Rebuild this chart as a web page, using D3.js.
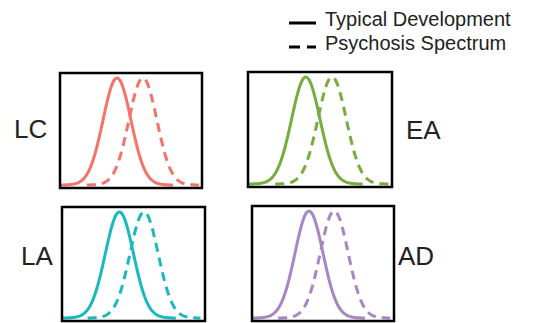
<!DOCTYPE html>
<html>
<head>
<meta charset="utf-8">
<script src="https://cdn.jsdelivr.net/npm/d3@7/dist/d3.min.js"></script>
<style>
  body { margin: 0; background: #fff; }
  svg { display: block; font-family: "Liberation Sans", Arial, sans-serif; }
</style>
</head>
<body>
<div id="chart"></div>
<script>
// groups and the normal curve parameters
var groups = ["LC", "EA", "LA", "AD"];
var groupColors = ["#f4736b", "#77ac3f", "#1ab9bf", "#a886c4"];
var tdMean = [0, 0, 0, 0];
var tdSd = [1, 1, 1, 1];
var psMean = [1.85, 1.85, 1.75, 1.8];
var psSd = [1, 1, 1, 1];
var legendLabels = ["Typical Development", "Psychosis Spectrum"];

// 1: svg
var W = 538, H = 323;
var svg = d3.select("#chart").append("svg")
    .attr("width", W)
    .attr("height", H);

// panel boxes (layout only)
var panels = [
  {x: 60,  y: 73,  w: 142, h: 115, label: "left",  lx: 14,  ly: 138},
  {x: 248, y: 72,  w: 144, h: 115, label: "right", lx: 406, ly: 139},
  {x: 62,  y: 207, w: 143, h: 114, label: "left",  lx: 21,  ly: 265},
  {x: 252, y: 206, w: 142, h: 115, label: "right", lx: 398, ly: 265}
];

function pdf(mu, sd, lo, hi) {
  return d3.range(lo, hi + 0.001, 0.05).map(function(v) {
    return [v, Math.exp(-0.5 * Math.pow((v - mu) / sd, 2)) / (sd * Math.sqrt(2 * Math.PI))];
  });
}

groups.forEach(function(g, i) {
  var p = panels[i];
  var gp = svg.append("g")
      .attr("transform", "translate(" + p.x + "," + p.y + ")");

  var x = d3.scaleLinear().domain([-4, 6]).range([1, p.w - 1]);
  var peak = 1 / (Math.sqrt(2 * Math.PI) * Math.min(tdSd[i], psSd[i]));
  var y = d3.scaleLinear().domain([0, peak]).range([p.h - 3, 5]);

  var line = d3.line()
      .x(function(d) { return x(d[0]); })
      .y(function(d) { return y(d[1]); })
      .curve(d3.curveBasis);

  gp.append("path")
      .datum(pdf(psMean[i], psSd[i], psMean[i] - 4 * psSd[i], psMean[i] + 4 * psSd[i]))
      .attr("d", line)
      .attr("fill", "none")
      .attr("stroke", groupColors[i])
      .attr("stroke-width", 3)
      .attr("stroke-dasharray", "9,6");

  gp.append("path")
      .datum(pdf(tdMean[i], tdSd[i], tdMean[i] - 4 * tdSd[i], tdMean[i] + 4 * tdSd[i]))
      .attr("d", line)
      .attr("fill", "none")
      .attr("stroke", groupColors[i])
      .attr("stroke-width", 3);

  gp.append("rect")
      .attr("width", p.w)
      .attr("height", p.h)
      .attr("fill", "none")
      .attr("stroke", "#000")
      .attr("stroke-width", 2.5);

  svg.append("text")
      .attr("x", p.lx)
      .attr("y", p.ly)
      .attr("font-size", 26)
      .attr("fill", "#222")
      .text(g);
});

// legend
var legend = svg.append("g").attr("transform", "translate(289,0)");
legendLabels.forEach(function(t, i) {
  var yy = 23 + i * 24;
  legend.append("line")
      .attr("x1", 0).attr("x2", 27)
      .attr("y1", yy).attr("y2", yy)
      .attr("stroke", "#000")
      .attr("stroke-width", 3)
      .attr("stroke-dasharray", i === 0 ? null : "11,7");
  legend.append("text")
      .attr("x", 36)
      .attr("y", 26 + i * 24)
      .attr("font-size", 20)
      .attr("fill", "#222")
      .text(t);
});
</script>
</body>
</html>
